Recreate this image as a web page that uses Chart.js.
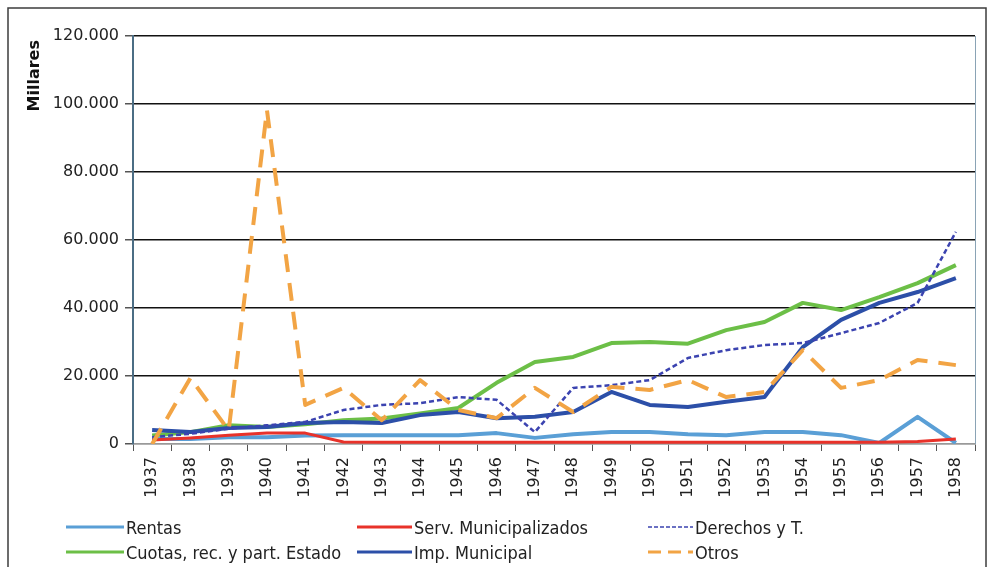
<!DOCTYPE html>
<html>
    <head>
        <meta charset="utf-8">
        <style>
            html, body { margin: 0; padding: 0; background: #ffffff; }
            #wrap { width: 992px; height: 567px; position: relative; }
        </style>
    </head>
    <body>

	<div id="wrap">
		<canvas id="myChart" width="992" height="567"></canvas>
	</div>

        <script src="https://cdn.jsdelivr.net/npm/chart.js"></script>

        <script>
		const years = ['1937','1938','1939','1940','1941','1942','1943','1944','1945','1946','1947',
			'1948','1949','1950','1951','1952','1953','1954','1955','1956','1957','1958'];

		const rentas = [1500,1500,2000,2000,2500,2600,2600,2600,2600,3200,1800,
			2900,3500,3500,2900,2600,3500,3500,2600,300,8000,300];
		const servMunicipalizados = [1200,1800,2600,3200,3200,600,500,500,500,500,500,
			500,500,500,500,500,500,500,500,500,700,1500];
		const derechos = [2000,3000,4500,5500,6500,10000,11500,12000,13800,13000,3500,
			16500,17300,18800,25300,27600,29100,29700,32600,35600,41500,62400];
		const cuotas = [2500,3500,5500,5000,5800,7000,7500,9000,10600,18000,24100,
			25600,29700,30000,29500,33500,35900,41500,39400,43200,47300,52600];
		const impMunicipal = [4100,3500,4700,5000,6200,6500,6200,8500,9400,7600,8000,
			9400,15300,11500,10900,12400,13800,28500,36500,41500,44700,48800];
		const otros = [0,19400,4000,98200,11500,16500,7000,18800,10000,7600,16500,
			9400,16800,15900,18800,13800,15300,27600,16500,18800,24700,23200];

		const yTicks = [0,20000,40000,60000,80000,100000,120000];
		const yTitle = 'Millares';

		const ctx = document.getElementById('myChart');

		const frameAndLegend = {
			id: 'frameAndLegend',
			beforeDraw(chart) {
				const c = chart.ctx;
				c.save();
				c.fillStyle = '#ffffff';
				c.fillRect(0, 0, chart.width, chart.height);
				c.strokeStyle = '#3d3d3d';
				c.lineWidth = 1.5;
				c.strokeRect(8, 8, 978, 575);
				c.restore();
			},
			afterDraw(chart) {
				const c = chart.ctx;
				const a = chart.chartArea;
				c.save();
				// plot border right side
				c.strokeStyle = '#8aa3b5';
				c.lineWidth = 1;
				c.beginPath();
				c.moveTo(a.right + 0.5, a.top);
				c.lineTo(a.right + 0.5, a.bottom);
				c.stroke();

				// y title, top aligned like the original
				c.save();
				c.translate(35, a.top + 4);
				c.rotate(-Math.PI / 2);
				c.font = 'bold 16px "DejaVu Sans", sans-serif';
				c.fillStyle = '#111';
				c.textAlign = 'right';
				c.textBaseline = 'middle';
				c.fillText(yTitle, 0, 0);
				c.restore();

				// legend
				const cols = [66, 357, 648];
				const rows = [527, 552];
				const lens = [58, 55, 45];
				c.font = '18px "DejaVu Sans Condensed", "DejaVu Sans", sans-serif';
				c.textBaseline = 'middle';
				c.fillStyle = '#222';
				chart.data.datasets.forEach((ds) => {
					const col = ds.legendCol, row = ds.legendRow;
					const x = cols[col], y = rows[row];
					c.strokeStyle = ds.borderColor;
					c.lineWidth = ds.legendWidth;
					c.setLineDash(ds.legendDash || []);
					c.beginPath();
					c.moveTo(x, y);
					c.lineTo(x + lens[col], y);
					c.stroke();
					c.setLineDash([]);
					c.fillText(ds.label, x + lens[col] + 2, y + 2);
				});
				c.restore();
			}
		};

		const mychart = new Chart(ctx, {
			type: 'line',
			data: {
				labels: years,
				datasets: [
					{
						label: 'Rentas',
						data: rentas,
						borderColor: '#5a9fd6',
						borderWidth: 4,
						order: 5,
						legendCol: 0, legendRow: 0, legendWidth: 3
					},
					{
						label: 'Serv. Municipalizados',
						data: servMunicipalizados,
						borderColor: '#e8322a',
						borderWidth: 3,
						order: 4,
						legendCol: 1, legendRow: 0, legendWidth: 3
					},
					{
						label: 'Derechos y T.',
						data: derechos,
						borderColor: '#3b43b0',
						borderWidth: 2.5,
						borderDash: [5, 3],
						order: 1,
						legendCol: 2, legendRow: 0, legendWidth: 1.5, legendDash: [4, 2]
					},
					{
						label: 'Cuotas, rec. y part. Estado',
						data: cuotas,
						borderColor: '#6cbf47',
						borderWidth: 4,
						order: 3,
						legendCol: 0, legendRow: 1, legendWidth: 3
					},
					{
						label: 'Imp. Municipal',
						data: impMunicipal,
						borderColor: '#2c4fa8',
						borderWidth: 4,
						order: 2,
						legendCol: 1, legendRow: 1, legendWidth: 3
					},
					{
						label: 'Otros',
						data: otros,
						borderColor: '#f2a444',
						borderWidth: 4,
						borderDash: [18, 11],
						order: 0,
						legendCol: 2, legendRow: 1, legendWidth: 3, legendDash: [13, 7]
					}
				]
			},
			options: {
				responsive: false,
				animation: false,
				elements: {
					point: { radius: 0 },
					line: { tension: 0, fill: false, borderJoinStyle: 'round' }
				},
				layout: {
					padding: { left: 22, right: 17, top: 36, bottom: 53 }
				},
				plugins: {
					legend: { display: false },
					tooltip: { enabled: false }
				},
				scales: {
					x: {
						offset: true,
						grid: {
							display: true,
							drawOnChartArea: false,
							drawTicks: true,
							tickLength: 7,
							offset: true,
							color: '#555'
						},
						border: { color: '#999', width: 1.5 },
						ticks: {
							minRotation: 90,
							maxRotation: 90,
							autoSkip: false,
							padding: 6,
							color: '#222',
							font: { family: 'DejaVu Sans', size: 16 }
						},
						afterFit(scale) { scale.height = 70; }
					},
					y: {
						min: 0,
						max: 120000,
						afterBuildTicks(scale) {
							scale.ticks = yTicks.map(v => ({ value: v }));
						},
						grid: {
							color: (c) => c.tick && c.tick.value === 0 ? '#999' : '#111',
							lineWidth: 1.5,
							tickLength: 8,
							tickColor: '#555'
						},
						border: { color: '#4b6d84', width: 2 },
						ticks: {
							padding: 6,
							color: '#222',
							font: { family: 'DejaVu Sans', size: 16 },
							callback: (v) => v === 0 ? '0' : (v / 1000) + '.000'
						},
						afterFit(scale) { scale.width = 111; }
					}
				}
			},
			plugins: [frameAndLegend]
		});
        </script>
    </body>
</html>
